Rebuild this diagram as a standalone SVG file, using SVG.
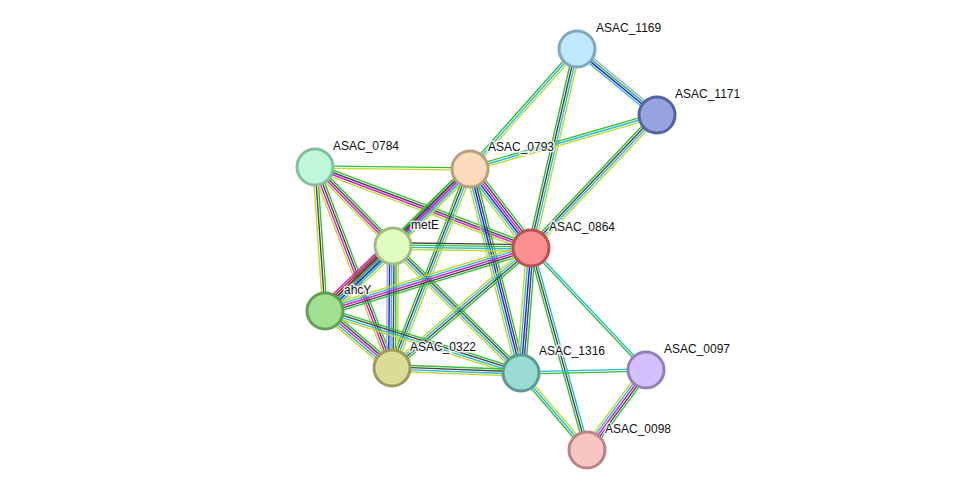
<svg xmlns="http://www.w3.org/2000/svg" width="976" height="496" viewBox="0 0 976 496">
<style>
#edges line{stroke-width:1.4;fill:none}
.g{stroke:#33c033}.k{stroke:#484848}.c{stroke:#2ab8e0}.y{stroke:#c2d82c}.m{stroke:#d81ad8}.b{stroke:#1c1cf0}.p{stroke:#a8a8f5}.r{stroke:#dd2020}
.node circle{stroke-width:3}
.lbl{font-family:"Liberation Sans",Arial,sans-serif;font-size:12px;fill:#111;stroke:#fff;stroke-width:3;stroke-opacity:0.85;paint-order:stroke;stroke-linejoin:round}
</style>
<rect width="976" height="496" fill="#fff"/>
<g id="edges">
<!-- 1169-1171 -->
<g transform="translate(577,49) rotate(39.5)"><line x1="0" x2="103.7" y1="-3.3" y2="-3.3" class="p"/><line x1="0" x2="103.7" y1="-1.1" y2="-1.1" class="g"/><line x1="0" x2="103.7" y1="1.1" y2="1.1" class="b"/><line x1="0" x2="103.7" y1="3.3" y2="3.3" class="c"/></g>
<!-- 1169-0793 -->
<g transform="translate(577,49) rotate(131.7)"><line x1="0" x2="160.8" y1="-2.2" y2="-2.2" class="y"/><line x1="0" x2="160.8" y1="0" y2="0" class="c"/><line x1="0" x2="160.8" y1="2.2" y2="2.2" class="g"/></g>
<!-- 1169-0864 -->
<g transform="translate(577,49) rotate(103)"><line x1="0" x2="204.2" y1="-3.3" y2="-3.3" class="y"/><line x1="0" x2="204.2" y1="-1.1" y2="-1.1" class="c"/><line x1="0" x2="204.2" y1="1.1" y2="1.1" class="k"/><line x1="0" x2="204.2" y1="3.3" y2="3.3" class="g"/></g>
<!-- 1171-0793 -->
<g transform="translate(657,115) rotate(163.9)"><line x1="0" x2="194.6" y1="-2.2" y2="-2.2" class="y"/><line x1="0" x2="194.6" y1="0" y2="0" class="c"/><line x1="0" x2="194.6" y1="2.2" y2="2.2" class="g"/></g>
<!-- 1171-0864 -->
<g transform="translate(657,115) rotate(133.45)"><line x1="0" x2="183.2" y1="-3.3" y2="-3.3" class="y"/><line x1="0" x2="183.2" y1="-1.1" y2="-1.1" class="c"/><line x1="0" x2="183.2" y1="1.1" y2="1.1" class="k"/><line x1="0" x2="183.2" y1="3.3" y2="3.3" class="g"/></g>
<!-- 0784-0793 -->
<g transform="translate(315,167) rotate(0.74)"><line x1="0" x2="155" y1="-1.1" y2="-1.1" class="g"/><line x1="0" x2="155" y1="1.1" y2="1.1" class="y"/></g>
<!-- 0784-0864 -->
<g transform="translate(315,167) rotate(20.56)"><line x1="0" x2="230.7" y1="-3.3" y2="-3.3" class="g"/><line x1="0" x2="230.7" y1="-1.1" y2="-1.1" class="k"/><line x1="0" x2="230.7" y1="1.1" y2="1.1" class="m"/><line x1="0" x2="230.7" y1="3.3" y2="3.3" class="y"/></g>
<!-- 0784-metE -->
<g transform="translate(315,167) rotate(45.37)"><line x1="0" x2="111" y1="-3.3" y2="-3.3" class="g"/><line x1="0" x2="111" y1="-1.1" y2="-1.1" class="k"/><line x1="0" x2="111" y1="1.1" y2="1.1" class="m"/><line x1="0" x2="111" y1="3.3" y2="3.3" class="y"/></g>
<!-- 0784-ahcY -->
<g transform="translate(315,167) rotate(86.03)"><line x1="0" x2="144.3" y1="-2.2" y2="-2.2" class="g"/><line x1="0" x2="144.3" y1="0" y2="0" class="k"/><line x1="0" x2="144.3" y1="2.2" y2="2.2" class="y"/></g>
<!-- 0784-0322 -->
<g transform="translate(315,167) rotate(69.04)"><line x1="0" x2="215.2" y1="-3.3" y2="-3.3" class="g"/><line x1="0" x2="215.2" y1="-1.1" y2="-1.1" class="k"/><line x1="0" x2="215.2" y1="1.1" y2="1.1" class="m"/><line x1="0" x2="215.2" y1="3.3" y2="3.3" class="y"/></g>
<!-- 0793-metE -->
<g transform="translate(470,169) rotate(135)"><line x1="0" x2="108.9" y1="-4.4" y2="-4.4" class="y"/><line x1="0" x2="108.9" y1="-2.2" y2="-2.2" class="c"/><line x1="0" x2="108.9" y1="0" y2="0" class="m"/><line x1="0" x2="108.9" y1="2.2" y2="2.2" class="k"/><line x1="0" x2="108.9" y1="4.4" y2="4.4" class="g"/></g>
<!-- 0793-0864 -->
<g transform="translate(470,169) rotate(52.33)"><line x1="0" x2="99.8" y1="-5.5" y2="-5.5" class="g"/><line x1="0" x2="99.8" y1="-3.3" y2="-3.3" class="k"/><line x1="0" x2="99.8" y1="-1.1" y2="-1.1" class="m"/><line x1="0" x2="99.8" y1="1.1" y2="1.1" class="b"/><line x1="0" x2="99.8" y1="3.3" y2="3.3" class="c"/><line x1="0" x2="99.8" y1="5.5" y2="5.5" class="y"/></g>
<!-- 0793-ahcY -->
<g transform="translate(470,169) rotate(135.6)"><line x1="0" x2="202.9" y1="-4.4" y2="-4.4" class="y"/><line x1="0" x2="202.9" y1="-2.2" y2="-2.2" class="c"/><line x1="0" x2="202.9" y1="0" y2="0" class="m"/><line x1="0" x2="202.9" y1="2.2" y2="2.2" class="k"/><line x1="0" x2="202.9" y1="4.4" y2="4.4" class="g"/></g>
<!-- 0793-0322 -->
<g transform="translate(470,169) rotate(111.4)"><line x1="0" x2="213.7" y1="-3.3" y2="-3.3" class="y"/><line x1="0" x2="213.7" y1="-1.1" y2="-1.1" class="c"/><line x1="0" x2="213.7" y1="1.1" y2="1.1" class="k"/><line x1="0" x2="213.7" y1="3.3" y2="3.3" class="g"/></g>
<!-- 0793-1316 -->
<g transform="translate(470,169) rotate(75.96)"><line x1="0" x2="210.3" y1="-4.4" y2="-4.4" class="g"/><line x1="0" x2="210.3" y1="-2.2" y2="-2.2" class="k"/><line x1="0" x2="210.3" y1="0" y2="0" class="b"/><line x1="0" x2="210.3" y1="2.2" y2="2.2" class="c"/><line x1="0" x2="210.3" y1="4.4" y2="4.4" class="y"/></g>
<!-- metE-0864 -->
<g transform="translate(393,246) rotate(0.83)"><line x1="0" x2="138" y1="-3.3" y2="-3.3" class="k"/><line x1="0" x2="138" y1="-1.1" y2="-1.1" class="g"/><line x1="0" x2="138" y1="1.1" y2="1.1" class="c"/><line x1="0" x2="138" y1="3.3" y2="3.3" class="y"/></g>
<!-- metE-ahcY -->
<g transform="translate(393,246) rotate(136.3)"><line x1="0" x2="94.1" y1="-6.6" y2="-6.6" class="y"/><line x1="0" x2="94.1" y1="-4.4" y2="-4.4" class="c"/><line x1="0" x2="94.1" y1="-2.2" y2="-2.2" class="b"/><line x1="0" x2="94.1" y1="0" y2="0" class="g"/><line x1="0" x2="94.1" y1="2.2" y2="2.2" class="k"/><line x1="0" x2="94.1" y1="4.4" y2="4.4" class="r"/><line x1="0" x2="94.1" y1="6.6" y2="6.6" class="m"/></g>
<!-- metE-0322 -->
<g transform="translate(393,246) rotate(90.5)"><line x1="0" x2="122" y1="-5.5" y2="-5.5" class="y"/><line x1="0" x2="122" y1="-3.3" y2="-3.3" class="g"/><line x1="0" x2="122" y1="-1.1" y2="-1.1" class="k"/><line x1="0" x2="122" y1="1.1" y2="1.1" class="c"/><line x1="0" x2="122" y1="3.3" y2="3.3" class="b"/><line x1="0" x2="122" y1="5.5" y2="5.5" class="p"/></g>
<!-- metE-1316 -->
<g transform="translate(393,246) rotate(44.78)"><line x1="0" x2="180.3" y1="-3.3" y2="-3.3" class="g"/><line x1="0" x2="180.3" y1="-1.1" y2="-1.1" class="k"/><line x1="0" x2="180.3" y1="1.1" y2="1.1" class="c"/><line x1="0" x2="180.3" y1="3.3" y2="3.3" class="y"/></g>
<!-- 0864-ahcY -->
<g transform="translate(531,248) rotate(163)"><line x1="0" x2="215.4" y1="-4.4" y2="-4.4" class="g"/><line x1="0" x2="215.4" y1="-2.2" y2="-2.2" class="k"/><line x1="0" x2="215.4" y1="0" y2="0" class="m"/><line x1="0" x2="215.4" y1="2.2" y2="2.2" class="c"/><line x1="0" x2="215.4" y1="4.4" y2="4.4" class="y"/></g>
<!-- 0864-0322 -->
<g transform="translate(531,248) rotate(139.2)"><line x1="0" x2="183.6" y1="-3.3" y2="-3.3" class="g"/><line x1="0" x2="183.6" y1="-1.1" y2="-1.1" class="k"/><line x1="0" x2="183.6" y1="1.1" y2="1.1" class="c"/><line x1="0" x2="183.6" y1="3.3" y2="3.3" class="y"/></g>
<!-- 0864-1316 -->
<g transform="translate(531,248) rotate(94.57)"><line x1="0" x2="125.4" y1="-4.4" y2="-4.4" class="g"/><line x1="0" x2="125.4" y1="-2.2" y2="-2.2" class="k"/><line x1="0" x2="125.4" y1="0" y2="0" class="b"/><line x1="0" x2="125.4" y1="2.2" y2="2.2" class="c"/><line x1="0" x2="125.4" y1="4.4" y2="4.4" class="y"/></g>
<!-- 0864-0097 -->
<g transform="translate(531,248) rotate(46.7)"><line x1="0" x2="167.7" y1="-1.1" y2="-1.1" class="c"/><line x1="0" x2="167.7" y1="1.1" y2="1.1" class="g"/></g>
<!-- 0864-0098 -->
<g transform="translate(531,248) rotate(74.5)"><line x1="0" x2="209.6" y1="-2.2" y2="-2.2" class="c"/><line x1="0" x2="209.6" y1="0" y2="0" class="k"/><line x1="0" x2="209.6" y1="2.2" y2="2.2" class="g"/></g>
<!-- ahcY-0322 -->
<g transform="translate(325,311) rotate(40.4)"><line x1="0" x2="88" y1="-4.4" y2="-4.4" class="g"/><line x1="0" x2="88" y1="-2.2" y2="-2.2" class="k"/><line x1="0" x2="88" y1="0" y2="0" class="m"/><line x1="0" x2="88" y1="2.2" y2="2.2" class="c"/><line x1="0" x2="88" y1="4.4" y2="4.4" class="y"/></g>
<!-- ahcY-1316 -->
<g transform="translate(325,311) rotate(17.55)"><line x1="0" x2="205.6" y1="-3.3" y2="-3.3" class="g"/><line x1="0" x2="205.6" y1="-1.1" y2="-1.1" class="k"/><line x1="0" x2="205.6" y1="1.1" y2="1.1" class="c"/><line x1="0" x2="205.6" y1="3.3" y2="3.3" class="y"/></g>
<!-- 0322-1316 -->
<g transform="translate(392,368) rotate(2.22)"><line x1="0" x2="129.1" y1="-3.3" y2="-3.3" class="g"/><line x1="0" x2="129.1" y1="-1.1" y2="-1.1" class="k"/><line x1="0" x2="129.1" y1="1.1" y2="1.1" class="c"/><line x1="0" x2="129.1" y1="3.3" y2="3.3" class="y"/></g>
<!-- 1316-0097 -->
<g transform="translate(521,373) rotate(-1.37)"><line x1="0" x2="125" y1="-1.1" y2="-1.1" class="c"/><line x1="0" x2="125" y1="1.1" y2="1.1" class="g"/></g>
<!-- 1316-0098 -->
<g transform="translate(521,373) rotate(49.4)"><line x1="0" x2="101.4" y1="-2.2" y2="-2.2" class="y"/><line x1="0" x2="101.4" y1="0" y2="0" class="c"/><line x1="0" x2="101.4" y1="2.2" y2="2.2" class="g"/></g>
<!-- 0097-0098 -->
<g transform="translate(646,370) rotate(126.4)"><line x1="0" x2="99.4" y1="-4.4" y2="-4.4" class="g"/><line x1="0" x2="99.4" y1="-2.2" y2="-2.2" class="k"/><line x1="0" x2="99.4" y1="0" y2="0" class="m"/><line x1="0" x2="99.4" y1="2.2" y2="2.2" class="c"/><line x1="0" x2="99.4" y1="4.4" y2="4.4" class="y"/></g>
</g>
<g id="n1169" class="node"><circle cx="577" cy="49" r="18" fill="#c0e8fc" stroke="#7fa8c0"/><text class="lbl" x="596" y="32">ASAC_1169</text></g>
<g id="n1171" class="node"><circle cx="657" cy="115" r="18" fill="#98a4e0" stroke="#5462a0"/><text class="lbl" x="675" y="98">ASAC_1171</text></g>
<g id="n0784" class="node"><circle cx="315" cy="167" r="18" fill="#c0f8dc" stroke="#80c09c"/><text class="lbl" x="333" y="150">ASAC_0784</text></g>
<g id="n0793" class="node"><circle cx="470" cy="169" r="18" fill="#fcdcbc" stroke="#bca07c"/><text class="lbl" x="488" y="151">ASAC_0793</text></g>
<g id="nmetE" class="node"><circle cx="393" cy="246" r="18" fill="#e0fcc0" stroke="#a0bc80"/><text class="lbl" x="411" y="229">metE</text></g>
<g id="n0864" class="node"><circle cx="531" cy="248" r="18" fill="#fc9090" stroke="#bc5050"/><text class="lbl" x="549" y="231">ASAC_0864</text></g>
<g id="nahcY" class="node"><circle cx="325" cy="311" r="18" fill="#a0e090" stroke="#60a050"/><text class="lbl" x="344" y="294">ahcY</text></g>
<g id="n0322" class="node"><circle cx="392" cy="368" r="18" fill="#dcdc98" stroke="#9c9c58"/><text class="lbl" x="410" y="351">ASAC_0322</text></g>
<g id="n1316" class="node"><circle cx="521" cy="373" r="18" fill="#98dcd4" stroke="#589c94"/><text class="lbl" x="539" y="355">ASAC_1316</text></g>
<g id="n0097" class="node"><circle cx="646" cy="370" r="18" fill="#d4c0fc" stroke="#9480bc"/><text class="lbl" x="664" y="353">ASAC_0097</text></g>
<g id="n0098" class="node"><circle cx="587" cy="450" r="18" fill="#f8c4c4" stroke="#b88484"/><text class="lbl" x="605" y="433">ASAC_0098</text></g>
</svg>
